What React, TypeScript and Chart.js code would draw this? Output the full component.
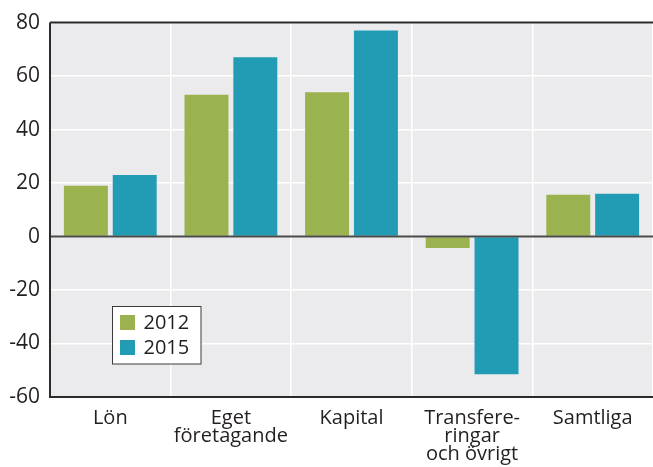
import React, { useEffect, useRef } from "react";
import { Chart, registerables } from "chart.js";

Chart.register(...registerables);

const categories: string[][] = [
  ["Lön"],
  ["Eget", "företagande"],
  ["Kapital"],
  ["Transfere-", "ringar", "och övrigt"],
  ["Samtliga"],
];
const series2012 = [19, 53, 54, -4.3, 15.6];
const series2015 = [23, 67, 77, -51.5, 16];
const seriesLabels = ["2012", "2015"];
const seriesColors = ["#9BB34E", "#219CB4"];
const yMin = -60;
const yMax = 80;
const yStep = 20;

const FONT = "'Open Sans', 'DejaVu Sans', sans-serif";
const TEXT = "#231F20";

const framePlugin = {
  id: "frame",
  beforeDraw(chart: any) {
    const { ctx, chartArea } = chart;
    ctx.save();
    ctx.fillStyle = "#EBEBED";
    ctx.fillRect(chartArea.left, chartArea.top, chartArea.right - chartArea.left, chartArea.bottom - chartArea.top);
    ctx.restore();
  },
  afterDatasetsDraw(chart: any) {
    const { ctx, chartArea, scales } = chart;
    const y0 = scales.y.getPixelForValue(0);
    ctx.save();
    ctx.strokeStyle = "#4A4A4A";
    ctx.lineWidth = 2;
    ctx.beginPath();
    ctx.moveTo(chartArea.left, y0);
    ctx.lineTo(chartArea.right, y0);
    ctx.stroke();
    ctx.strokeStyle = "#2B2B2B";
    ctx.lineWidth = 2;
    ctx.beginPath();
    ctx.moveTo(chartArea.left, chartArea.top);
    ctx.lineTo(chartArea.right, chartArea.top);
    ctx.moveTo(chartArea.left, chartArea.top);
    ctx.lineTo(chartArea.left, chartArea.bottom);
    ctx.lineTo(chartArea.right, chartArea.bottom);
    ctx.stroke();
    ctx.restore();
  },
  afterDraw(chart: any) {
    const { ctx } = chart;
    const bx = 112.5, by = 306.5, bw = 88.5, bh = 57.5;
    ctx.save();
    ctx.fillStyle = "#FFFFFF";
    ctx.fillRect(bx, by, bw, bh);
    ctx.strokeStyle = "#3A3A3A";
    ctx.lineWidth = 1;
    ctx.strokeRect(bx, by, bw, bh);
    ctx.font = `20px ${FONT}`;
    ctx.textBaseline = "middle";
    seriesLabels.forEach((lab, i) => {
      const cy = by + 15.5 + i * 25;
      ctx.fillStyle = seriesColors[i];
      ctx.fillRect(bx + 7.5, cy - 7, 15, 15);
      ctx.fillStyle = TEXT;
      ctx.fillText(lab, bx + 31, cy + 1);
    });
    ctx.restore();
  },
};

export default function App() {
  const ref = useRef<HTMLCanvasElement | null>(null);
  useEffect(() => {
    if (!ref.current) return;
    const chart = new Chart(ref.current, {
      type: "bar",
      data: {
        labels: categories,
        datasets: [
          { label: seriesLabels[0], data: series2012, backgroundColor: seriesColors[0], categoryPercentage: 0.81, barPercentage: 0.9 },
          { label: seriesLabels[1], data: series2015, backgroundColor: seriesColors[1], categoryPercentage: 0.81, barPercentage: 0.9 },
        ],
      },
      options: {
        responsive: false,
        animation: false,
        layout: { padding: { top: 19, right: 0, left: 0, bottom: 0 } },
        plugins: { legend: { display: false }, tooltip: { enabled: false } },
        scales: {
          x: {
            grid: { color: "#FFFFFF", lineWidth: 1.5, drawTicks: false, offset: true },
            border: { display: false },
            ticks: { color: TEXT, font: { family: FONT, size: 20, lineHeight: 0.9 }, padding: 12, maxRotation: 0, autoSkip: false },
            afterFit(scale: any) { scale.height = 70; },
          },
          y: {
            min: yMin,
            max: yMax,
            grid: { color: "#FFFFFF", lineWidth: 1.5, drawTicks: false },
            border: { display: false },
            ticks: { stepSize: yStep, color: TEXT, font: { family: FONT, size: 21 }, padding: 10 },
            afterFit(scale: any) { scale.width = 50; },
          },
        },
      },
      plugins: [framePlugin],
    });
    return () => chart.destroy();
  }, []);
  return (
    <div style={{ position: "fixed", left: 0, top: 0, width: 653, height: 467, background: "#fff" }}>
      <canvas ref={ref} width={653} height={467} style={{ display: "block" }} />
    </div>
  );
}
